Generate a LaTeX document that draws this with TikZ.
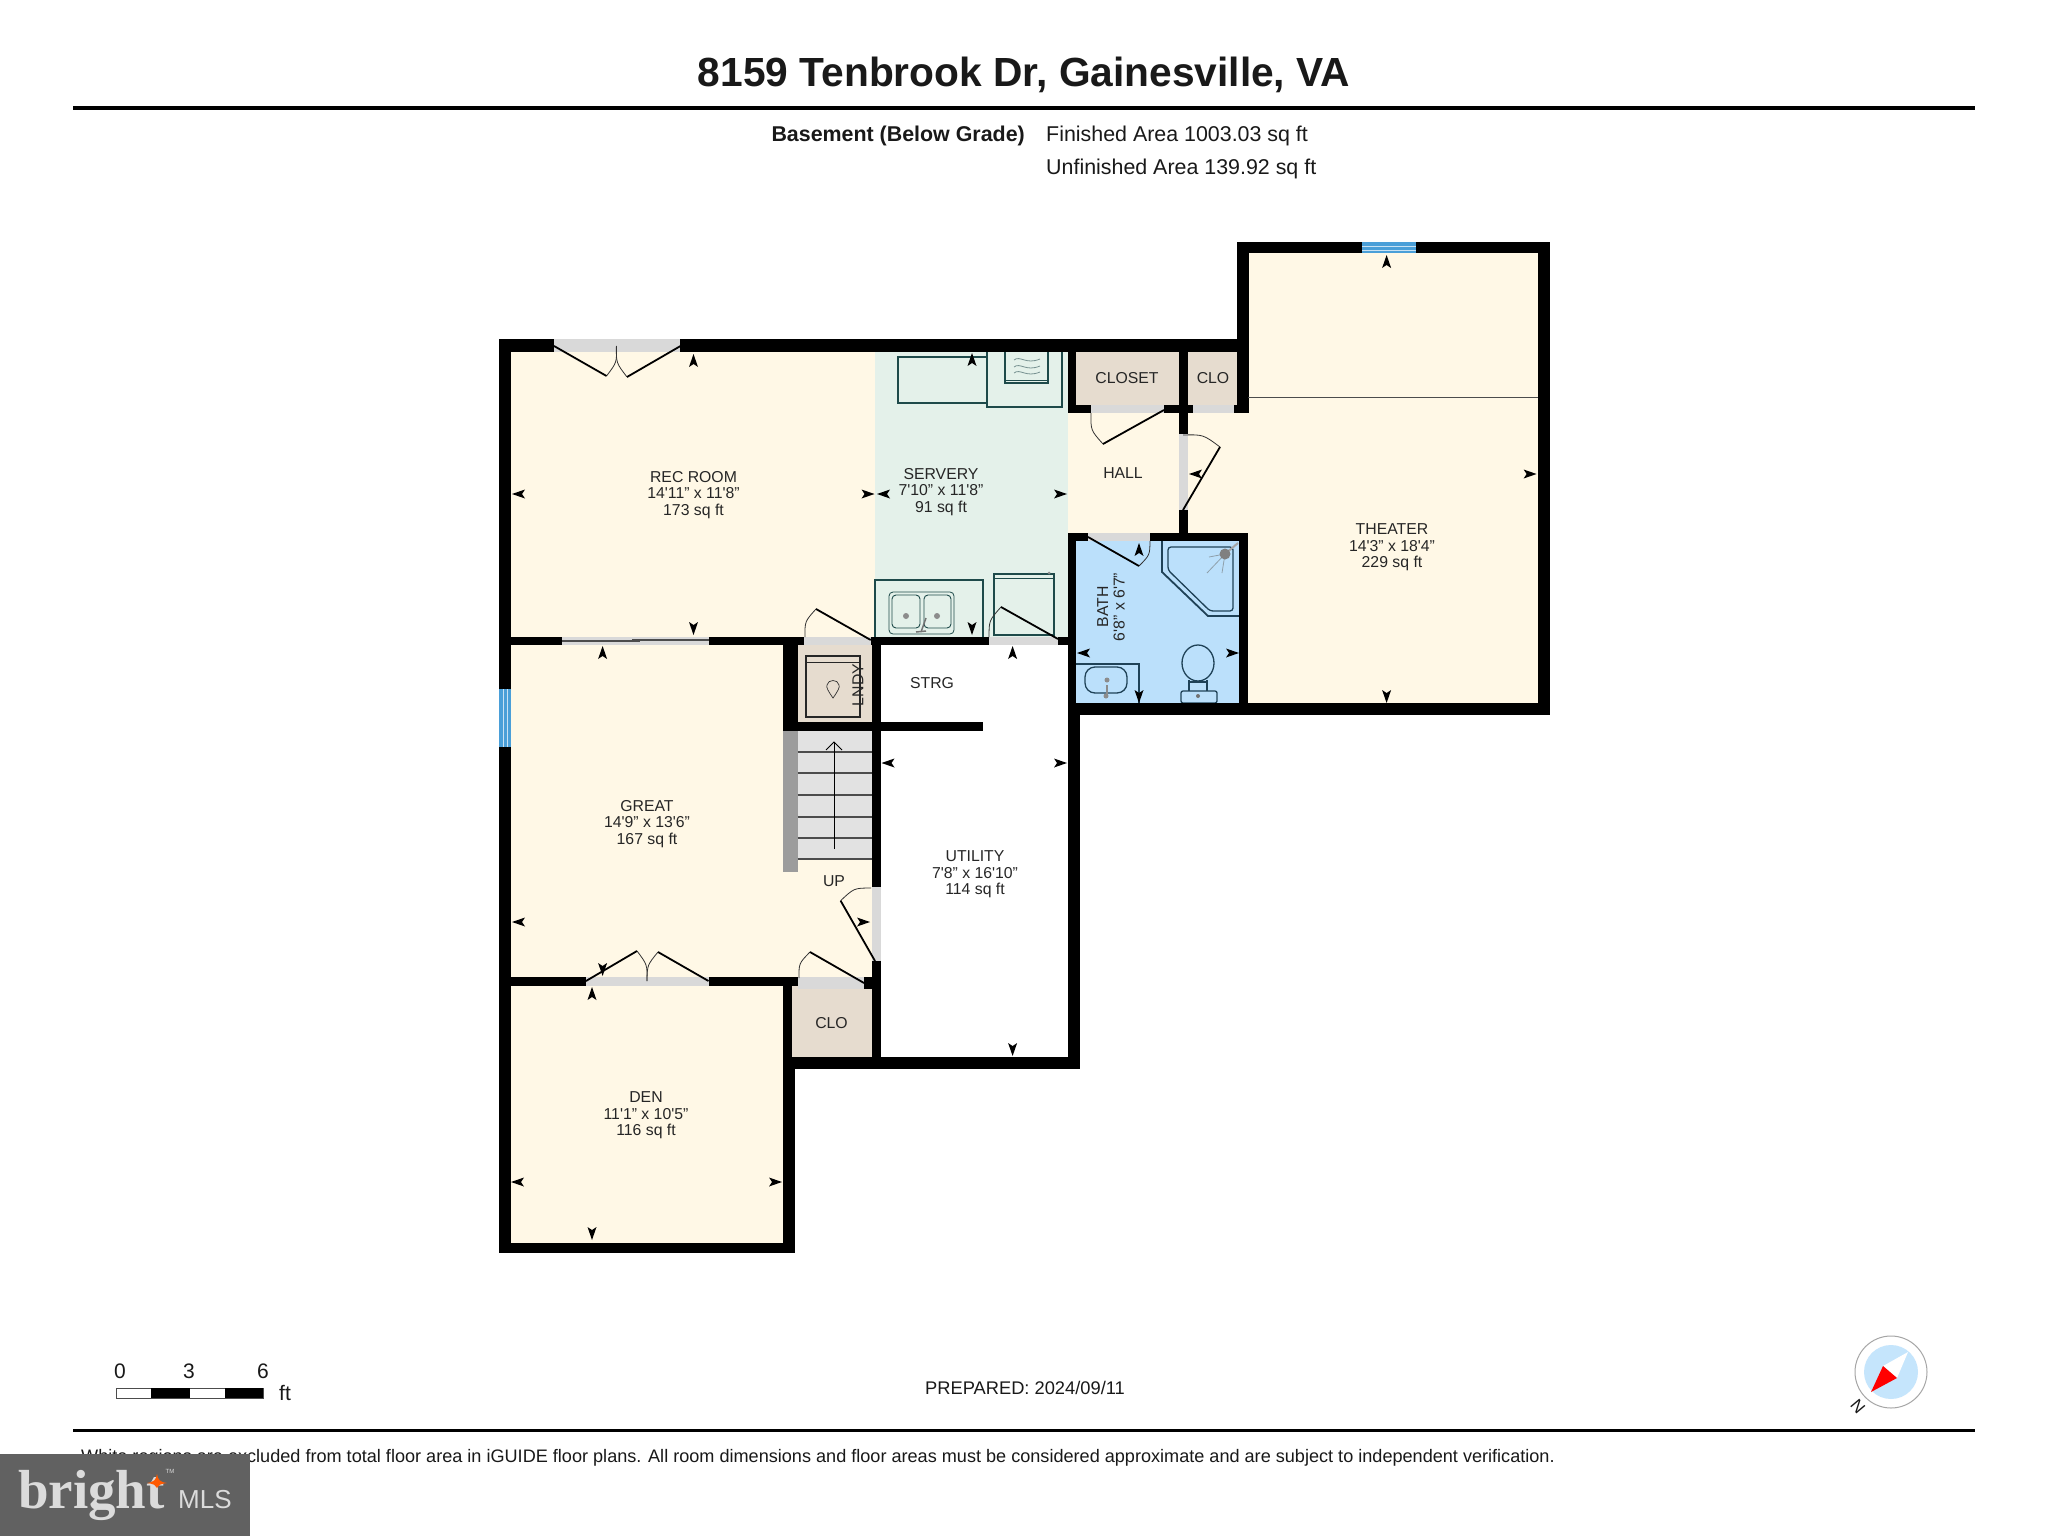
\documentclass[tikz,border=0pt]{standalone}
\usepackage{fontspec}
\setmainfont{Liberation Sans}
\newfontfamily\brandserif{Liberation Serif}
\usetikzlibrary{calc}
\definecolor{cream}{HTML}{FFF8E6}
\definecolor{servcol}{HTML}{E4F1EA}
\definecolor{clocol}{HTML}{E6DCCF}
\definecolor{bathcol}{HTML}{BBE0FB}
\definecolor{wincol}{HTML}{4A9FD8}
\definecolor{doorcol}{HTML}{D9D9D9}
\definecolor{staircol}{HTML}{E2E2E2}
\definecolor{railcol}{HTML}{9C9C9C}
\definecolor{fixdark}{HTML}{1E4A4A}
\definecolor{bathline}{HTML}{1F4257}
\newcommand{\ap}{\textquotesingle}
\tikzset{
  roomlabel/.style={font=\fontsize{15.8}{16.6}\selectfont,align=center,inner sep=0pt,text=black!85},
  plaintext/.style={inner sep=0pt,text=black!90},
  doorleaf/.style={line width=1.8pt,black},
  doorarc/.style={line width=0.8pt,black!80},
  fixture/.style={line width=1.2pt,fixdark},
  bathfix/.style={line width=1.3pt,bathline},
  treadline/.style={line width=1.2pt,black!70},
}
\newcommand{\frect}[5]{\fill[#1] (#2,#3) rectangle (#4,#5);}
\newcommand{\wl}[4]{\fill[black] (#1,#2) rectangle (#3,#4);}
\newcommand{\mk}[3]{\fill[black,shift={(#1,#2)},rotate=#3] (7,0) -- (-6,-4.5) -- (-3,0) -- (-6,4.5) -- cycle;}
\newcommand{\dr}[3]{\draw[doorarc] #2 .. controls ($#1!1.094!($#2!.5!#3$)$) .. #3; \draw[doorleaf] #1 -- #2;}
\begin{document}
\begin{tikzpicture}[x=1pt,y=-1pt]
\useasboundingbox (0,0) rectangle (2048,1536);
\fill[white] (0,0) rectangle (2048,1536);

% header
\node[plaintext,font=\bfseries\fontsize{40.7}{42}\selectfont] (title) at (1024,74.5) {8159 Tenbrook Dr, Gainesville, VA};
\fill[black] (73,106.5) rectangle (1975,110);
\node[plaintext,anchor=base east,font=\bfseries\fontsize{21.4}{23}\selectfont] (basement) at (1025,142) {Basement (Below Grade)};
\node[plaintext,anchor=base west,font=\fontsize{21.4}{23}\selectfont] (finished) at (1046,142) {Finished Area 1003.03 sq ft};
\node[plaintext,anchor=base west,font=\fontsize{21.4}{23}\selectfont] (unfinished) at (1046,175) {Unfinished Area 139.92 sq ft};

% room fills
\frect{cream}{505}{346}{875}{640}
\frect{servcol}{875}{346}{1068}{640}
\frect{cream}{505}{640}{790}{985}
\frect{cream}{790}{860}{875}{985}
\frect{cream}{505}{980}{790}{1246}
\frect{clocol}{1072}{346}{1182}{408}
\frect{clocol}{1184}{346}{1242}{408}
\frect{cream}{1068}{408}{1184}{538}
\frect{cream}{1244}{250}{1542}{708}
\frect{cream}{1184}{408}{1244}{708}
\frect{bathcol}{1072}{538}{1243}{708}
\frect{clocol}{797}{640}{872}{726}
\frect{clocol}{792}{985}{872}{1060}
\frect{staircol}{797}{728}{872}{860}

% servery fixtures
\draw[fixture] (898,357) rectangle (987,403);
\draw[fixture] (987,352) -- (987,407) -- (1062,407) -- (1062,352);
\draw[fixture] (1005,352) -- (1005,383) -- (1048,383) -- (1048,352);
\draw[fixture,line width=0.8pt] (1005,380) -- (1048,380);
\foreach \yy in {360,367,373}{
  \draw[line width=0.8pt,fixdark!60] (1014,\yy) .. controls (1020,\yy-5) and (1026,\yy+5) .. (1040,\yy-1);
}
\draw[fixture] (875,637) -- (875,580) -- (983,580) -- (983,637);
\draw[fixture,line width=0.8pt,rounded corners=4pt] (889,592) rectangle (954,634);
\draw[fixture,line width=0.9pt,rounded corners=4pt] (892,595) rectangle (920,628);
\draw[fixture,line width=0.9pt,rounded corners=4pt] (924,595) rectangle (951,628);
\fill[black!45] (906,616) circle (3);
\fill[black!45] (937,616) circle (3);
\draw[line width=1.5pt,black!55] (916,632) -- (926,631);
\draw[line width=1.5pt,black!55] (921,632) -- (926,618);
\draw[fixture] (994,636) -- (994,574) -- (1054,574) -- (1054,636);
\draw[fixture,line width=0.8pt] (994,578) -- (1054,578);
\draw[fixture] (994,635) -- (1054,635);
\fill[black!45] (1049,573) circle (1.5);

% laundry fixture
\draw[line width=1.5pt,black!85] (806,656) rectangle (860,717);
\draw[line width=0.9pt,black!85] (806,662) -- (860,662);
\draw[line width=0.7pt,black!80] (833,698) .. controls (828,691) and (826,687) .. (827,685) .. controls (828,679) and (838,679) .. (839,685) .. controls (840,687) and (838,691) .. (833,698) -- cycle;

% stairs
\fill[railcol] (782.5,731) rectangle (797.5,872);
\foreach \yy in {752,773,795,817,838,859}{\draw[treadline] (797.5,\yy) -- (871.5,\yy);}
\draw[line width=0.9pt,black] (834,849) -- (834,742);
\draw[line width=0.9pt,black] (826,750) -- (834,742) -- (842,750);

% bath fixtures
\draw[bathfix,line width=1.8pt] (1162,541) -- (1162,572) -- (1208,616) -- (1239,616);
\draw[bathfix,rounded corners=3pt] (1168,547) -- (1168,570) -- (1210,611) -- (1233,611) -- (1233,547) -- cycle;
\draw[line width=0.8pt,bathline!50] (1225,554) -- (1209,557) (1225,554) -- (1207,573) (1225,554) -- (1222,573);
\draw[line width=2pt,black!35] (1225,554) -- (1238,543);
\fill[black!50] (1225,554) circle (5.5);
\draw[bathfix] (1076,664) -- (1139,664) -- (1139,703);
\draw[bathfix,rounded corners=10pt] (1085,667) rectangle (1127,693);
\fill[black!45] (1107,680) circle (2.5);
\draw[line width=2pt,black!45] (1107,685) -- (1107,694);
\fill[black!45] (1106,696) circle (2.5);
\draw[bathfix] (1198,663) ellipse (16 and 18);
\draw[bathfix] (1189,680) -- (1189,691) (1207,680) -- (1207,691) (1190,682) -- (1206,682);
\draw[bathfix,rounded corners=2pt,fill=bathcol] (1181,691) rectangle (1217,703);
\fill[black!55] (1198,696) circle (2);

% grey door bands
\frect{doorcol}{554}{339}{680}{352}
\frect{doorcol}{562}{637}{709}{645}
\frect{doorcol}{804}{637}{871}{645}
\frect{doorcol}{989}{637}{1058}{645}
\frect{doorcol}{1091}{405}{1164}{413}
\frect{doorcol}{1193}{405}{1234}{413}
\frect{doorcol}{1179}{434}{1188}{510}
\frect{doorcol}{1088}{533}{1150}{541}
\frect{doorcol}{871.5}{887}{880.5}{961}
\frect{doorcol}{586}{977}{708.5}{986}
\frect{doorcol}{798}{977}{864}{989}

% walls
\wl{499}{339}{511}{689}
\wl{499}{747}{511}{1252.5}
\wl{511}{339}{554}{352}
\wl{680}{339}{1248}{352}
\wl{1236.5}{242}{1248.6}{413}
\wl{1236.5}{242}{1362}{253}
\wl{1416}{242}{1549.7}{253}
\wl{1537.6}{242}{1549.7}{715}
\wl{1068}{703}{1549.7}{715}
\wl{1068}{339}{1076}{413}
\wl{1068}{405}{1091}{413}
\wl{1164}{405}{1193}{413}
\wl{1234}{405}{1248}{413}
\wl{1179}{352}{1188}{434}
\wl{1179}{510}{1188}{541}
\wl{1068}{533}{1088}{541}
\wl{1150}{533}{1248}{541}
\wl{1068}{533}{1076}{715}
\wl{1239}{533}{1248}{715}
\wl{1068}{703}{1080}{1069}
\wl{499}{637}{562}{645}
\wl{709}{637}{804}{645}
\wl{871}{637}{989}{645}
\wl{1058}{637}{1069}{645}
\wl{782.5}{645}{797.5}{731}
\wl{782.5}{722}{983}{731}
\wl{871.5}{637}{880.5}{887}
\wl{871.5}{961}{880.5}{1069}
\wl{499}{977}{586}{986}
\wl{708.5}{977}{798}{986}
\wl{864}{977}{880}{989}
\wl{782.5}{986}{792}{1069}
\wl{782.5}{1057}{794.5}{1252.5}
\wl{782.5}{1057}{1080}{1069}
\wl{499}{1243}{794.5}{1252.5}

% clean utility / strg area
\frect{white}{880.5}{645}{1068}{722}
\frect{white}{983}{722}{1068}{731}
\frect{white}{880.5}{731}{1068}{1057}

% windows
\frect{wincol}{499}{689}{511}{747}
\draw[line width=0.6pt,white!70!wincol] (503,689) -- (503,747) (507,689) -- (507,747);
\frect{wincol}{1362}{242}{1416}{253}
\draw[line width=0.6pt,white!70!wincol] (1362,246) -- (1416,246) (1362,250) -- (1416,250);

% theater line
\draw[line width=1pt,black!70] (1248,397) -- (1538,397);

% sliding door
\fill[black!70] (562,640) rectangle (640,642);
\fill[black!70] (632,638.5) rectangle (709,640.5);

% doors
\dr{(554,346)}{(606.5,376)}{(616.4,346)}
\dr{(680.5,346)}{(627,377)}{(616.4,346)}
\dr{(870.7,640)}{(816,609)}{(805,637)}
\dr{(1058,639)}{(1001,607)}{(989,637)}
\dr{(1164,410)}{(1103,444)}{(1091,413)}
\dr{(1183,510)}{(1220,447)}{(1183,435)}
\dr{(1088,537)}{(1139,566)}{(1150,541)}
\dr{(875,961)}{(840.6,900.7)}{(871,888)}
\dr{(864,983)}{(810,952)}{(799,978)}
\dr{(586,981)}{(637,951)}{(647,981)}
\dr{(708.5,981)}{(658,952)}{(647,981)}

% dimension markers
\mk{519}{494}{180}\mk{867.5}{494}{0}\mk{693.5}{361}{90}\mk{693.5}{628}{270}
\mk{884}{494}{180}\mk{1060}{494}{0}\mk{972}{360}{90}\mk{972}{628}{270}
\mk{602.6}{653}{90}\mk{519}{922}{180}\mk{863}{922}{0}\mk{602.6}{969}{270}
\mk{592}{994}{90}\mk{518}{1182}{180}\mk{775}{1182}{0}\mk{592}{1233}{270}
\mk{1012.6}{653}{90}\mk{1012.6}{1049}{270}\mk{888.5}{763}{180}\mk{1060}{763}{0}
\mk{1386.6}{262}{90}\mk{1386.6}{696}{270}\mk{1196}{474}{180}\mk{1529.6}{474}{0}
\mk{1139}{550}{90}\mk{1139}{696}{270}\mk{1084}{653}{180}\mk{1232}{653}{0}

% room labels
\node[roomlabel] (rec) at (693.5,495) {REC ROOM\\14\ap11" x 11\ap8"\\173 sq ft};
\node[roomlabel] (servery) at (941,492) {SERVERY\\7\ap10" x 11\ap8"\\91 sq ft};
\node[roomlabel] (theater) at (1392,547.5) {THEATER\\14\ap3" x 18\ap4"\\229 sq ft};
\node[roomlabel] (great) at (647,824) {GREAT\\14\ap9" x 13\ap6"\\167 sq ft};
\node[roomlabel] (utility) at (975,874.5) {UTILITY\\7\ap8" x 16\ap10"\\114 sq ft};
\node[roomlabel] (den) at (646,1115.5) {DEN\\11\ap1" x 10\ap5"\\116 sq ft};
\node[roomlabel] (closet) at (1127,378) {CLOSET};
\node[roomlabel] (cloa) at (1213,378) {CLO};
\node[roomlabel] (hall) at (1123,473) {HALL};
\node[roomlabel] (strg) at (932,683) {STRG};
\node[roomlabel] (clob) at (831.5,1023) {CLO};
\node[roomlabel] (up) at (834,881) {UP};
\node[roomlabel,rotate=90] (lndy) at (858,685) {LNDY};
\node[roomlabel,rotate=90] (bath) at (1111,607) {BATH\\6\ap8" x 6\ap7"};

% scale bar
\draw[line width=0.8pt,black!70,fill=white] (116,1388) rectangle (263,1398);
\fill[black] (151,1388) rectangle (190,1398);
\fill[black] (225,1388) rectangle (263,1398);
\node[plaintext,font=\fontsize{21}{22}\selectfont] (sc0) at (120,1371) {0};
\node[plaintext,font=\fontsize{21}{22}\selectfont] (sc3) at (189,1371) {3};
\node[plaintext,font=\fontsize{21}{22}\selectfont] (sc6) at (263,1371) {6};
\node[plaintext,font=\fontsize{21}{22}\selectfont] (scft) at (285,1393) {ft};

% prepared
\node[plaintext,font=\fontsize{18.3}{20}\selectfont] (prepared) at (1025,1388) {PREPARED: 2024/09/11};

% compass
\draw[line width=1pt,black!35,fill=white] (1891,1372) circle (36);
\fill[bathcol!85!white] (1891,1372) circle (27);
\fill[white] (1908,1352) -- (1883,1366) -- (1897,1378) -- cycle;
\fill[red] (1871,1392) -- (1883,1366) -- (1897,1378) -- cycle;
\node[plaintext,font=\fontsize{17}{18}\selectfont,rotate=130] (north) at (1858,1407) {N};

% footer
\fill[black] (73,1428.5) rectangle (1975,1431.5);
\node[plaintext,anchor=base west,font=\fontsize{18.1}{20}\selectfont] (disclaimer) at (81,1462) {White regions are excluded from total floor area in iGUIDE floor plans. All room dimensions and floor areas must be considered approximate and are subject to independent verification.};

% brand
\fill[black!62] (0,1454) rectangle (250,1536);
\node[anchor=base west,inner sep=0pt,text=black!14,font=\brandserif\bfseries\fontsize{55}{56}\selectfont] (bright) at (18,1508) {bright};
\node[anchor=base west,inner sep=0pt,text=black!14,font=\fontsize{26}{27}\selectfont] (mls) at (178,1508) {MLS};
\fill[orange!70!red] (147,1483) .. controls (154,1482) and (156,1480) .. (157,1474) .. controls (158,1480) and (160,1482) .. (167,1483) .. controls (160,1484) and (158,1485) .. (157,1488) .. controls (156,1485) and (154,1484) .. (147,1483) -- cycle;
\node[inner sep=0pt,text=black!14,font=\fontsize{6}{7}\selectfont] (tm) at (170,1471) {TM};
\end{tikzpicture}
\end{document}
